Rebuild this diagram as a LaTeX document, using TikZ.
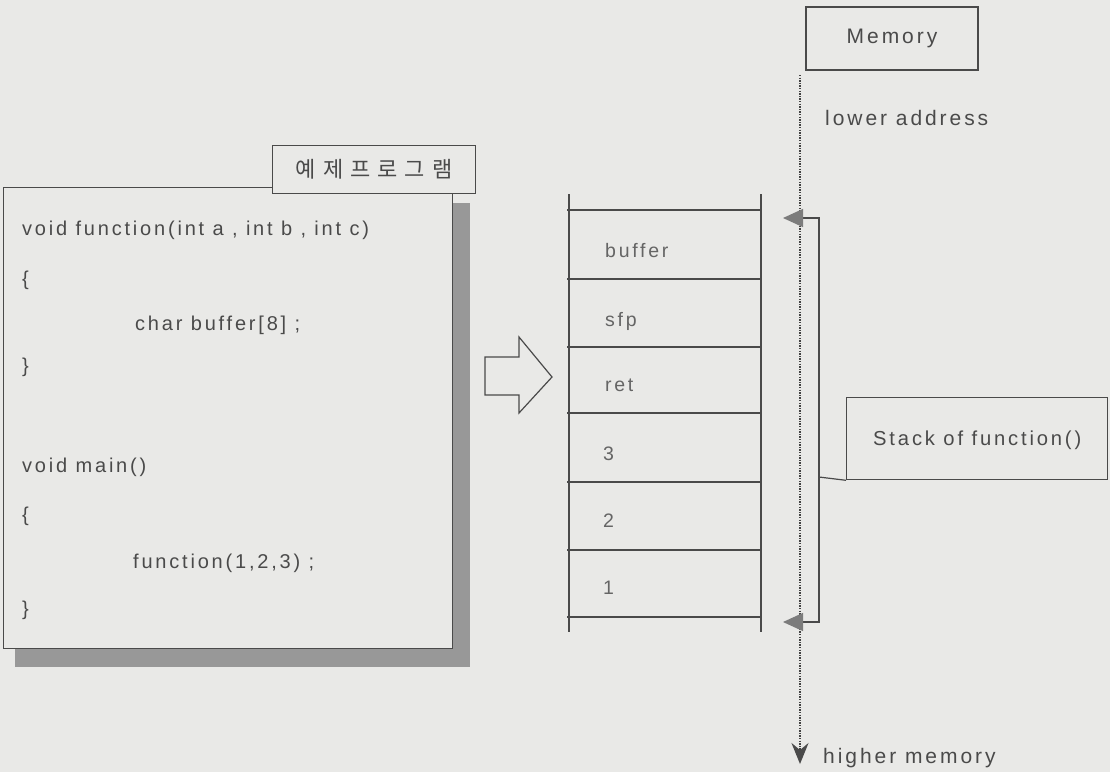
\documentclass[tikz,border=0pt]{standalone}
\usepackage{fontspec}
\setmainfont{Liberation Sans}
\newfontfamily\codefont[LetterSpace=14]{Liberation Sans}
\newfontfamily\kfont{Noto Sans CJK KR}
\usetikzlibrary{arrows.meta}
\definecolor{paper}{HTML}{E9E9E7}
\definecolor{ink}{HTML}{4A4A4A}
\definecolor{shadowgray}{HTML}{989898}
\definecolor{tipgray}{HTML}{7C7C7C}
\tikzset{
  frame/.style={draw=ink, line width=1.3pt, fill=paper},
  codetxt/.style={anchor=base west, inner sep=0pt, text=ink,
    font=\codefont\fontsize{20}{23}\selectfont},
  celltxt/.style={anchor=base west, inner sep=0pt, text=ink!85,
    font=\codefont\fontsize{19.5}{22}\selectfont},
  sidetxt/.style={anchor=base west, inner sep=0pt, text=ink,
    font=\codefont\fontsize{21}{24}\selectfont},
  stackline/.style={draw=ink, line width=1.3pt},
  dotline/.style={draw=ink!90!black, line width=1.6pt, dash pattern=on 1.4pt off 1.2pt},
}
\begin{document}
\begin{tikzpicture}[x=1pt,y=-1pt]
% page
\fill[paper] (0,0) rectangle (1110,772);
\useasboundingbox (0,0) rectangle (1110,772);

% program listing with drop shadow
\fill[shadowgray] (15,203) rectangle (470,667);
\node[frame, anchor=north west, minimum width=449pt, minimum height=461pt, inner sep=0pt] (prog) at (3,187) {};
\node[frame, anchor=north west, minimum width=203pt, minimum height=48pt, inner sep=0pt,
      font=\kfont\fontsize{22}{25}\selectfont, text=ink] (title) at (272,145)
  {예\hspace{7pt}제\hspace{7pt}프\hspace{7pt}로\hspace{7pt}그\hspace{7pt}램};

\node[codetxt] (c1) at (22,235) {void function(int a , int b , int c)};
\node[codetxt] (c2) at (22,285) {\{};
\node[codetxt] (c3) at (135,330) {char buffer[8] ;};
\node[codetxt] (c4) at (22,372) {\}};
\node[codetxt] (c5) at (22,472) {void main()};
\node[codetxt] (c6) at (22,521) {\{};
\node[codetxt] (c7) at (133,568) {function(1,2,3) ;};
\node[codetxt] (c8) at (22,615) {\}};

% hollow block arrow
\draw[ink, line width=1.2pt, fill=paper]
  (485,357) -- (519,357) -- (519,337) -- (552,377) -- (519,413) -- (519,395) -- (485,395) -- cycle;

% stack frame
\draw[stackline] (569,194) -- (569,632);
\draw[stackline] (761,194) -- (761,632);
\foreach \yy in {210,279,347,413,482,550,617}
  \draw[stackline] (567,\yy) -- (761,\yy);
\node[celltxt] (sbuf) at (605,257) {buffer};
\node[celltxt] (ssfp) at (605,326) {sfp};
\node[celltxt] (sret) at (605,391) {ret};
\node[celltxt] (s3) at (603,460) {3};
\node[celltxt] (s2) at (603,527) {2};
\node[celltxt] (s1) at (603,594) {1};

% memory axis
\node[frame, minimum width=172pt, minimum height=63pt, inner sep=0pt,
      font=\codefont\fontsize{21}{24}\selectfont, text=ink] (mem) at (892,38.5) {Memory};
\node[sidetxt] (low) at (825,125) {lower address};
\node[sidetxt] (high) at (823,763) {higher memory};
\coordinate (axtop) at (800,75);
\coordinate (axend) at (800,764);
\draw[dotline, -{Stealth[length=21pt, width=17pt, inset=7pt, fill=ink, color=ink]}] (axtop) -- (axend);

% extent of the function's stack
\coordinate (ftop) at (783,218);
\coordinate (fbot) at (783,622);
\draw[ink, line width=1.3pt,
      {Triangle[length=20pt, width=18pt, color=tipgray, fill=tipgray]}-{Triangle[length=20pt, width=18pt, color=tipgray, fill=tipgray]}]
  (ftop) -- ++(36,0) |- (fbot);
\node[frame, anchor=north west, minimum width=261pt, minimum height=82pt, inner sep=0pt] (stk) at (846,397) {};
\node[sidetxt, font=\codefont\fontsize{20.2}{24}\selectfont] (stktxt) at (873,445) {Stack of function()};
\coordinate (brk) at (819,477);
\draw[ink, line width=1.2pt] (brk) -- (stk.south west);
\end{tikzpicture}
\end{document}
